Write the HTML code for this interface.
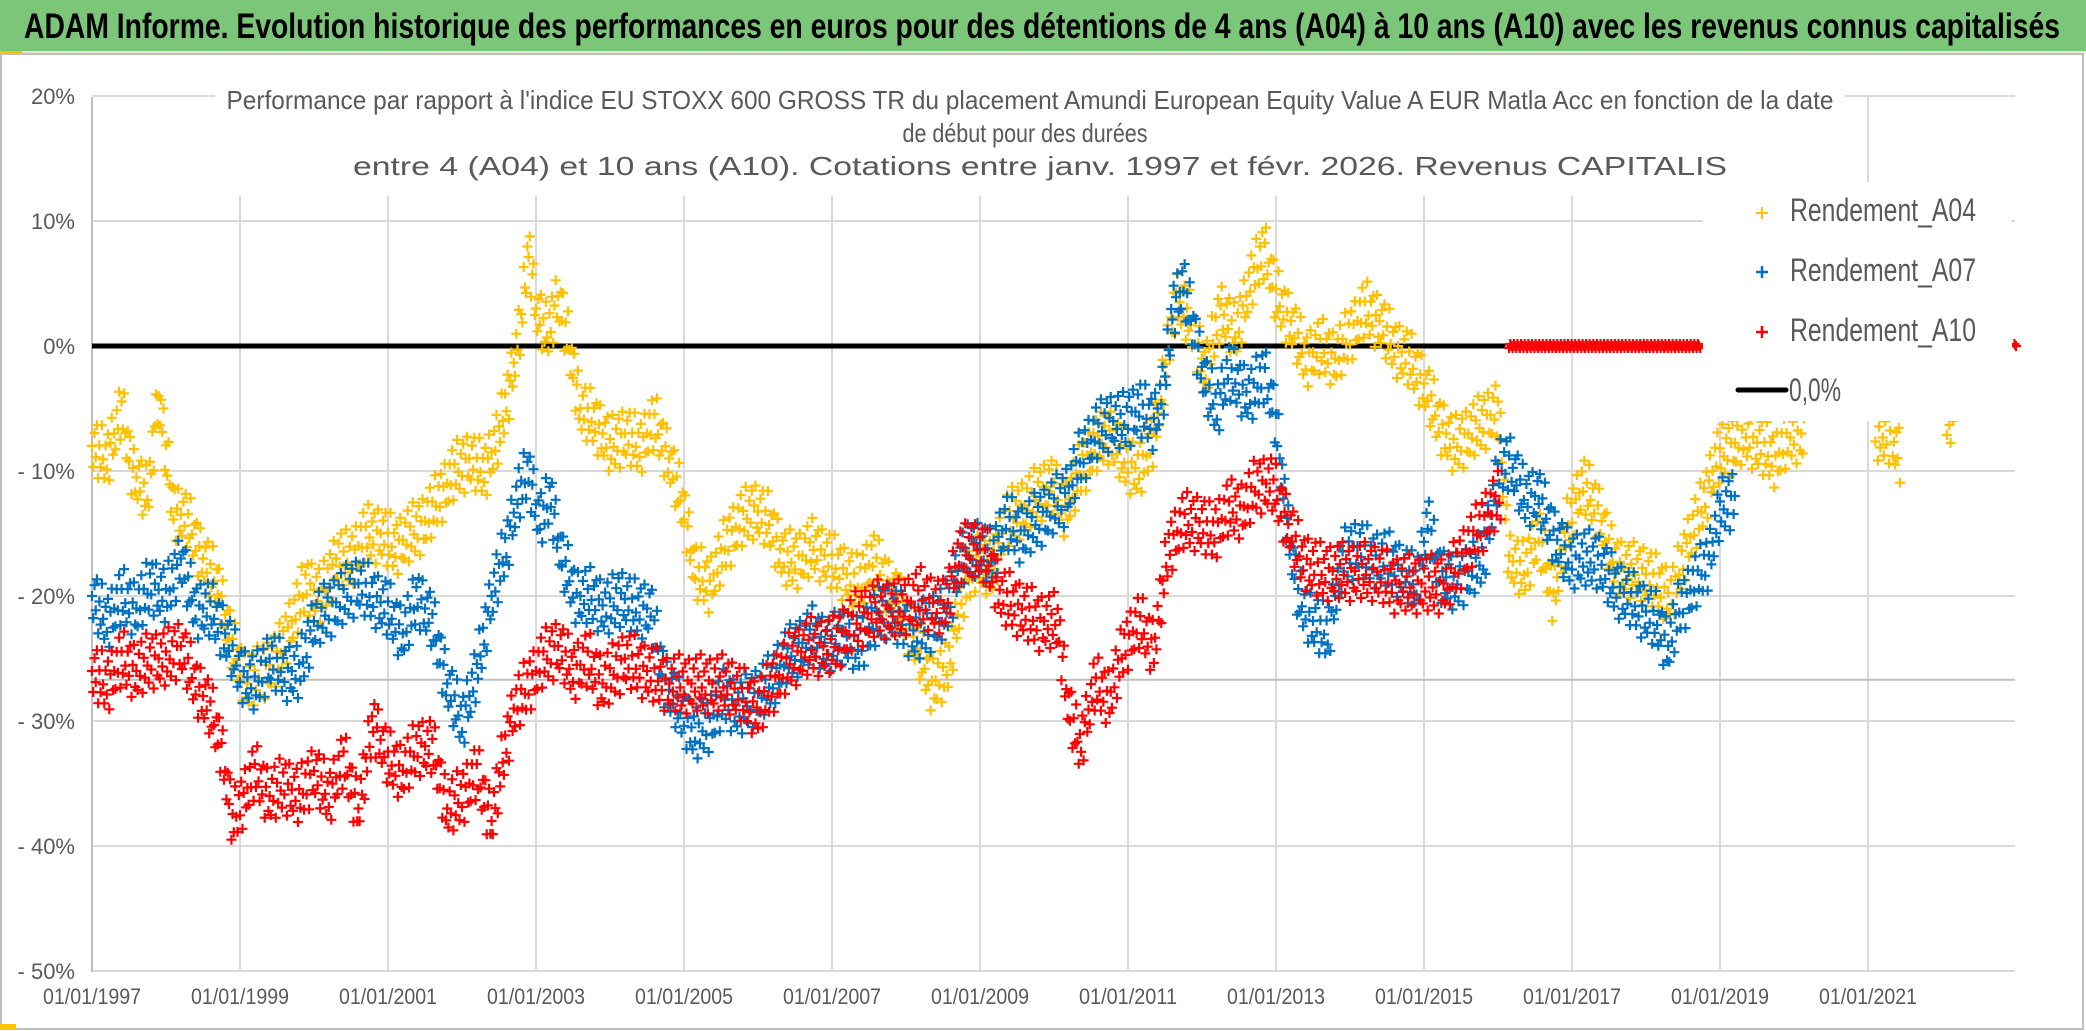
<!DOCTYPE html>
<html><head><meta charset="utf-8">
<style>
html,body{margin:0;padding:0;background:#fff;}
svg{display:block;}
text{font-family:"Liberation Sans Narrow","Liberation Sans",sans-serif;}
</style></head>
<body>
<svg id="chart" width="2086" height="1031" viewBox="0 0 2086 1031" xmlns="http://www.w3.org/2000/svg">
  <rect x="0" y="0" width="2086" height="1031" fill="#fff"/>
  <rect x="0" y="0" width="2086" height="51" fill="#7cc67a"/>
  <rect x="0" y="51" width="2086" height="3" fill="#e6e6e6"/>
  <rect x="0" y="51" width="22" height="3" fill="#ffc000"/>
  <text x="24" y="38" font-size="35" font-weight="bold" fill="#000" textLength="2036" lengthAdjust="spacingAndGlyphs">ADAM Informe. Evolution historique des performances en euros pour des détentions de 4 ans (A04) à 10 ans (A10) avec les revenus connus capitalisés</text>
  <rect x="1" y="54" width="2082" height="975" fill="none" stroke="#bfbfbf" stroke-width="2"/>
  <rect x="0" y="1024" width="16" height="6" fill="#ffc000"/>
  <g id="grid"></g>
  <rect x="215" y="74" width="1630" height="122" fill="#fff"/>
  <g fill="#595959" font-size="26" text-anchor="middle">
    <text x="1030" y="109" textLength="1607" lengthAdjust="spacingAndGlyphs">Performance par rapport à l'indice EU STOXX 600 GROSS TR  du placement Amundi European Equity Value A EUR Matla Acc en fonction de la date</text>
    <text x="1025" y="142" textLength="245" lengthAdjust="spacingAndGlyphs">de début pour des durées</text>
    <text x="1040" y="175" textLength="1374" lengthAdjust="spacingAndGlyphs">entre 4 (A04) et 10 ans (A10). Cotations entre janv. 1997 et févr. 2026. Revenus CAPITALIS</text>
  </g>
  <g id="marks"></g>
  <g id="axes"></g>
  <g id="legend">
    <rect x="1703" y="182" width="309" height="239" fill="#fff"/>
    <g>
      <path d="M1756 213 h12 M1762 207 v12" stroke="#ffc000" stroke-width="2"/>
      <text x="1790" y="221" font-size="32" fill="#595959" textLength="186" lengthAdjust="spacingAndGlyphs">Rendement_A04</text>
    </g>
    <g>
      <path d="M1756 272 h12 M1762 266 v12" stroke="#0070c0" stroke-width="2.5"/>
      <text x="1790" y="281" font-size="32" fill="#595959" textLength="186" lengthAdjust="spacingAndGlyphs">Rendement_A07</text>
    </g>
    <g>
      <path d="M1756 332 h12 M1762 326 v12" stroke="#ff0000" stroke-width="2.5"/>
      <text x="1790" y="341" font-size="32" fill="#595959" textLength="186" lengthAdjust="spacingAndGlyphs">Rendement_A10</text>
    </g>
    <g>
      <line x1="1738" y1="390" x2="1786" y2="390" stroke="#000" stroke-width="5" stroke-linecap="round"/>
      <text x="1789" y="401" font-size="32" fill="#595959" textLength="52" lengthAdjust="spacingAndGlyphs">0,0%</text>
    </g>
  </g>
</svg>
<script>
// ---- data ----
const yTicks = [20, 10, 0, -10, -20, -30, -40, -50];
const yTickLabels = ["20%", "10%", "0%", "- 10%", "- 20%", "- 30%", "- 40%", "- 50%"];
const xTicks = [1997, 1999, 2001, 2003, 2005, 2007, 2009, 2011, 2013, 2015, 2017, 2019, 2021];
const xTickLabels = ["01/01/1997","01/01/1999","01/01/2001","01/01/2003","01/01/2005","01/01/2007","01/01/2009","01/01/2011","01/01/2013","01/01/2015","01/01/2017","01/01/2019","01/01/2021"];
const refLineValue = -26.7;
const zeroLineEnd = 2016.1;

const a04Years = [1997.0,1997.2,1997.4,1997.55,1997.75,1997.9,1998.1,1998.3,1998.5,1998.7,1998.9,1999.1,1999.3,1999.5,1999.7,1999.9,2000.1,2000.3,2000.5,2000.7,2000.9,2001.1,2001.3,2001.5,2001.7,2001.9,2002.1,2002.3,2002.5,2002.65,2002.8,2002.9,2003.0,2003.15,2003.3,2003.45,2003.6,2003.8,2004.0,2004.2,2004.4,2004.6,2004.8,2005.0,2005.15,2005.35,2005.55,2005.75,2005.95,2006.15,2006.35,2006.55,2006.75,2006.95,2007.15,2007.35,2007.55,2007.75,2007.95,2008.15,2008.35,2008.55,2008.75,2008.95,2009.15,2009.35,2009.55,2009.75,2009.95,2010.15,2010.35,2010.55,2010.75,2010.95,2011.15,2011.35,2011.5,2011.65,2011.85,2012.05,2012.25,2012.45,2012.65,2012.85,2013.0,2013.2,2013.4,2013.6,2013.8,2014.0,2014.2,2014.4,2014.6,2014.8,2015.0,2015.2,2015.4,2015.6,2015.8,2016.0,2016.15,2016.35,2016.55,2016.75,2016.95,2017.15,2017.35,2017.55,2017.75,2017.95,2018.15,2018.35,2018.55,2018.75,2018.95,2019.15,2019.35,2019.55,2019.75,2019.95,2020.15,2020.2,2021.1,2021.3,2021.45,2021.5,2022.05,2022.15];
const a04Values = [-8,-9,-5,-10,-12,-4,-13,-14,-17,-19,-24,-27,-26,-25,-22,-19,-20,-17,-17,-15,-15,-16,-15,-14,-12,-10,-9,-10,-7,-3,2,8,3,1,4,0,-5,-6,-8,-7,-8,-6,-9,-13,-18,-19,-16,-14,-13,-14,-17,-17,-16,-17,-18,-19,-17,-19,-21,-24,-27,-26,-20,-17,-18,-14,-13,-12,-11,-13,-10,-8,-7,-9,-10,-7,-2,4,2,-2,3,1,5,8,4,2,-1,0,-1,1,3,2,0,-1,-3,-6,-8,-7,-6,-5,-17,-18,-15,-20,-14,-11,-13,-17,-18,-18,-19,-20,-16,-13,-9,-8,-7,-8,-9,-7,-7,null,-7,-7,-9,null,-6,-6];

const a07Years = [1997.0,1997.2,1997.4,1997.6,1997.8,1998.0,1998.2,1998.4,1998.6,1998.8,1999.0,1999.2,1999.4,1999.6,1999.8,2000.0,2000.2,2000.4,2000.6,2000.8,2001.0,2001.2,2001.4,2001.6,2001.8,2002.0,2002.2,2002.4,2002.6,2002.75,2002.9,2003.05,2003.2,2003.35,2003.55,2003.75,2003.95,2004.15,2004.35,2004.55,2004.75,2004.95,2005.15,2005.35,2005.55,2005.75,2005.95,2006.15,2006.35,2006.55,2006.75,2006.95,2007.15,2007.35,2007.55,2007.75,2007.95,2008.15,2008.35,2008.55,2008.75,2008.95,2009.15,2009.35,2009.55,2009.75,2009.95,2010.15,2010.35,2010.55,2010.75,2010.95,2011.15,2011.35,2011.5,2011.6,2011.75,2011.9,2012.05,2012.2,2012.35,2012.5,2012.65,2012.85,2013.0,2013.15,2013.3,2013.5,2013.7,2013.9,2014.1,2014.3,2014.5,2014.7,2014.9,2015.05,2015.2,2015.4,2015.6,2015.8,2016.0,2016.15,2016.35,2016.55,2016.75,2016.95,2017.15,2017.35,2017.55,2017.75,2017.95,2018.15,2018.3,2018.45,2018.65,2018.85,2019.0,2019.2];
const a07Values = [-20,-22,-20,-21,-19,-20,-17,-21,-21,-23,-26,-27,-25,-26,-26,-22,-21,-20,-19,-20,-21,-23,-20,-22,-27,-30,-26,-20,-16,-12,-10,-14,-12,-17,-20,-20,-21,-20,-21,-21,-27,-29,-31,-30,-28,-29,-28,-27,-25,-24,-23,-24,-23,-24,-22,-21,-22,-23,-22,-21,-17,-16,-17,-14,-15,-14,-13,-12,-9,-7,-6,-6,-5,-6,-3,3,5,1,-3,-5,-2,-3,-4,-2,-6,-14,-20,-22,-23,-17,-16,-17,-17,-18,-19,-14,-18,-19,-18,-17,-10,-9,-12,-12,-15,-17,-17,-17,-19,-20,-21,-22,-24,-21,-19,-17,-13,-12];

const a10Years = [1997.0,1997.2,1997.4,1997.6,1997.8,1998.0,1998.2,1998.4,1998.6,1998.75,1998.9,1999.05,1999.2,1999.4,1999.6,1999.8,2000.0,2000.2,2000.4,2000.6,2000.8,2001.0,2001.2,2001.4,2001.6,2001.8,2002.0,2002.2,2002.4,2002.55,2002.7,2002.9,2003.1,2003.3,2003.5,2003.7,2003.9,2004.2,2004.5,2004.8,2005.1,2005.4,2005.6,2005.8,2006.0,2006.2,2006.45,2006.7,2007.0,2007.3,2007.6,2007.9,2008.2,2008.5,2008.7,2008.9,2009.1,2009.3,2009.55,2009.8,2010.05,2010.2,2010.35,2010.55,2010.75,2010.95,2011.15,2011.35,2011.55,2011.75,2011.95,2012.15,2012.35,2012.55,2012.75,2012.95,2013.15,2013.35,2013.6,2013.85,2014.1,2014.35,2014.6,2014.85,2015.1,2015.3,2015.5,2015.7,2015.9,2016.05,2016.1,2016.15,2018.75,2018.8,2022.98,2023.0];
const a10Values = [-26,-27,-25,-26,-25,-25,-24,-27,-29,-32,-38,-36,-34,-36,-35,-36,-34,-36,-33,-37,-30,-33,-34,-32,-32,-37,-36,-34,-38,-33,-29,-27,-25,-24,-26,-25,-27,-25,-26,-27,-27,-27,-27,-28,-29,-27,-25,-24,-24,-22,-21,-21,-20,-21,-17,-16,-17,-20,-21,-22,-22,-29,-32,-27,-28,-24,-22,-24,-16,-14,-14,-15,-13,-13,-11,-11,-14,-17,-18,-18,-18,-18,-19,-19,-19,-19,-17,-15,-13,-12,null,0,0,null,0,0];

// ---- axes ----
const X0 = 92, PX_PER_YEAR = 74, Y0 = 346, PX_PER_PCT = 12.5;
const PLOT_RIGHT = 2015, PLOT_TOP = 97, PLOT_BOTTOM = 972;
function xScale(yr){ return X0 + (yr - 1997) * PX_PER_YEAR; }
function yScale(v){ return Y0 - v * PX_PER_PCT; }
const NS = "http://www.w3.org/2000/svg";
function mk(tag, attrs, parent){ const e = document.createElementNS(NS, tag); for (const k in attrs) e.setAttribute(k, attrs[k]); parent.appendChild(e); return e; }

const grid = document.getElementById('grid');
yTicks.forEach((v, i) => {
  const l = mk('line', {x1: X0, x2: PLOT_RIGHT, y1: yScale(v), y2: yScale(v), stroke: '#d9d9d9', 'stroke-width': 2}, grid);
  
  
});
xTicks.forEach((t, i) => {
  if (i === 0) return;
  const l = mk('line', {x1: xScale(t), x2: xScale(t), y1: PLOT_TOP, y2: PLOT_BOTTOM, stroke: '#d9d9d9', 'stroke-width': 2}, grid);
  
  
});
const ref = mk('line', {x1: X0, x2: PLOT_RIGHT, y1: yScale(refLineValue), y2: yScale(refLineValue), stroke: '#bfbfbf', 'stroke-width': 2}, grid);


const yAxisLine = mk('line', {x1: X0, x2: X0, y1: PLOT_TOP, y2: PLOT_BOTTOM, stroke: '#bfbfbf', 'stroke-width': 2}, grid);



const axes = document.getElementById('axes');
yTicks.forEach((v, i) => {
  const t = mk('text', {x: 75, y: yScale(v) + 8, 'text-anchor': 'end', 'font-size': 22, fill: '#595959'}, axes);
  t.textContent = yTickLabels[i];
  
  
});
xTicks.forEach((yr, i) => {
  const t = mk('text', {x: xScale(yr), y: 1004, 'text-anchor': 'middle', 'font-size': 22, fill: '#595959', textLength: 98, lengthAdjust: 'spacingAndGlyphs'}, axes);
  t.textContent = xTickLabels[i];
  
  
});

// ---- marks ----
const marks = document.getElementById('marks');
const zl = mk('line', {x1: X0, x2: xScale(zeroLineEnd), y1: yScale(0), y2: yScale(0), stroke: '#000', 'stroke-width': 5}, marks);



const jitter = [0, 20, -15, 8, -25, 27, -7, 14, -29, 4, 22, -12, 11, -20, 30, -3, -24, 17];
function drawSeries(years, values, color, name, stepPx){
  let d = '';
  let k = 0;
  const cross = (x, y) => {
    if (y < PLOT_TOP || y > PLOT_BOTTOM) return;
    d += 'M' + (x - 5).toFixed(1) + ' ' + y.toFixed(1) + 'h10M' + x.toFixed(1) + ' ' + (y - 5).toFixed(1) + 'v10';
  };
  for (let i = 0; i < years.length - 1; i++) {
    const v0 = values[i], v1 = values[i + 1];
    if (v0 === null || v1 === null) continue;
    const xa = xScale(years[i]), xb = xScale(years[i + 1]);
    const ya = yScale(v0), yb = yScale(v1);
    const flat = (v0 === 0 && v1 === 0);
    const n = Math.max(1, Math.round((xb - xa) / stepPx));
    for (let s = 0; s < n; s++) {
      const f = s / n;
      const j = flat ? (k % 3 - 1) * 2 : jitter[k % jitter.length];
      k++;
      cross(xa + (xb - xa) * f, ya + (yb - ya) * f + j);
    }
  }
  const last = values.length - 1;
  if (values[last] !== null) cross(xScale(years[last]), yScale(values[last]));
  const p = mk('path', {d: d, stroke: color, 'stroke-width': 2.2, fill: 'none'}, marks);
  
  
}
drawSeries(a04Years, a04Values, '#ffc000', 'series-rendement-a04', 1.2);
drawSeries(a07Years, a07Values, '#0070c0', 'series-rendement-a07', 1.2);
drawSeries(a10Years, a10Values, '#ff0000', 'series-rendement-a10', 1.2);
</script>
</body></html>
